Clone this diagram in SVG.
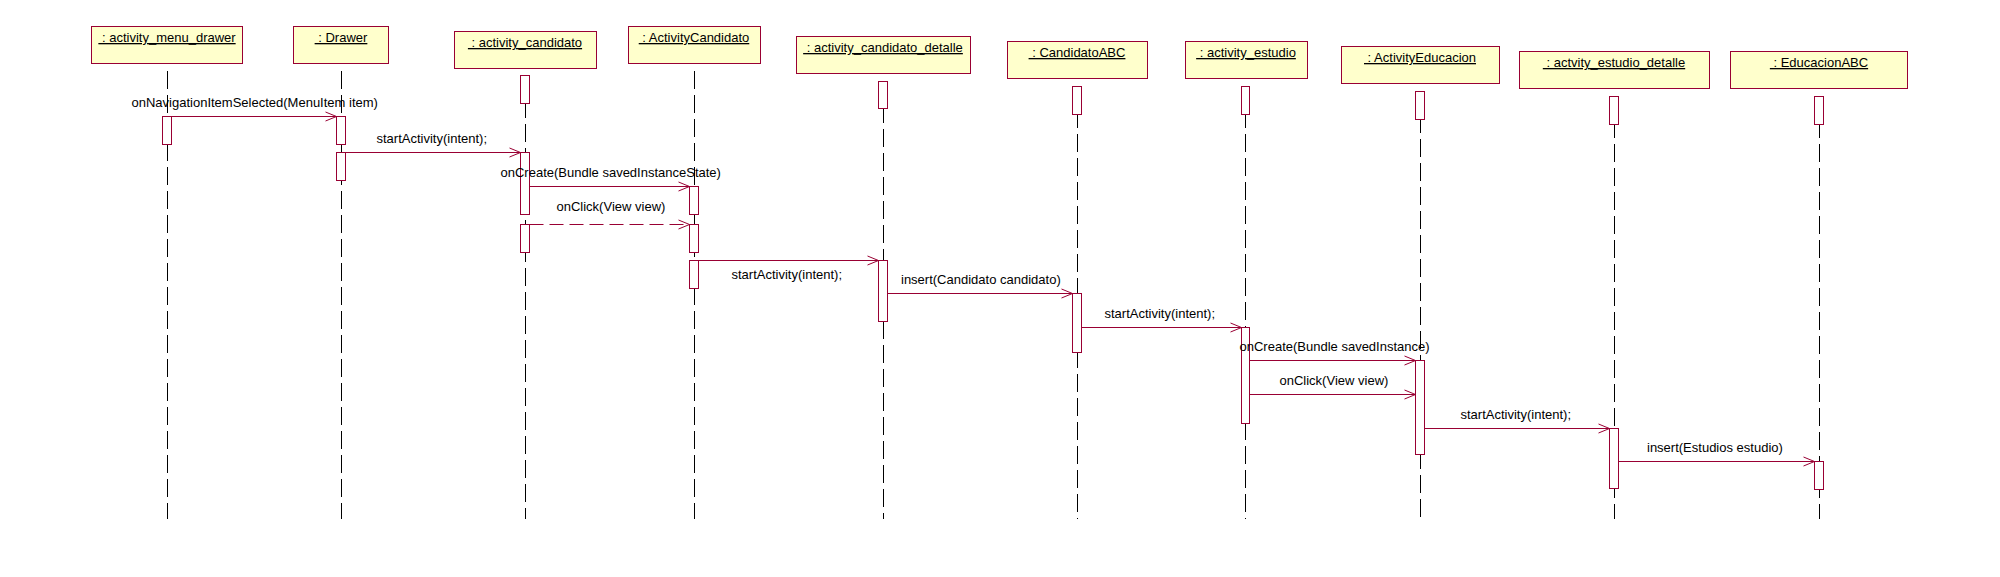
<svg xmlns="http://www.w3.org/2000/svg" width="2000" height="577" viewBox="0 0 2000 577">
<style>
.box{fill:#FFFFCC;stroke:#990033;stroke-width:1}
.act{fill:#FFFFFF;stroke:#990033;stroke-width:1}
.life{stroke:#000000;stroke-width:1;stroke-dasharray:18 6;fill:none}
.name{font-family:"Liberation Sans",Arial,sans-serif;font-size:13px;fill:#000000;text-anchor:middle;text-decoration:underline;white-space:pre}
.msg{stroke:#990033;stroke-width:1;fill:none;marker-end:url(#open)}
.dash{stroke-dasharray:14 6}
.lbl{font-family:"Liberation Sans",Arial,sans-serif;font-size:13px;fill:#000000}
</style>
<defs>
<marker id="open" markerUnits="userSpaceOnUse" viewBox="-13 -7 15 14" markerWidth="15" markerHeight="14" refX="0" refY="0" orient="auto">
<path d="M-11,-4.5 L0,0 L-11,4.5" fill="none" stroke="#990033" stroke-width="1"/>
</marker>
</defs>
<rect width="2000" height="577" fill="#FFFFFF"/>

<g id="n1">
<rect class="box" x="91.5" y="26.5" width="151" height="37"/>
<text class="name" x="167" y="42" xml:space="preserve"> : activity_menu_drawer</text>
<line class="life" x1="167.5" y1="71" x2="167.5" y2="519"/>
<rect class="act" x="162.5" y="116.5" width="9" height="28"/>
</g>

<g id="n2">
<rect class="box" x="293.5" y="26.5" width="95" height="37"/>
<text class="name" x="341" y="42" xml:space="preserve"> : Drawer</text>
<line class="life" x1="341.5" y1="71" x2="341.5" y2="519"/>
<rect class="act" x="336.5" y="116.5" width="9" height="28"/>
<rect class="act" x="336.5" y="152.5" width="9" height="28"/>
</g>

<g id="n3">
<rect class="box" x="454.5" y="31.5" width="142" height="37"/>
<text class="name" x="525" y="47" xml:space="preserve"> : activity_candidato</text>
<line class="life" x1="525.5" y1="76" x2="525.5" y2="519"/>
<rect class="act" x="520.5" y="75.5" width="9" height="28"/>
<rect class="act" x="520.5" y="152.5" width="9" height="62"/>
<rect class="act" x="520.5" y="224.5" width="9" height="28"/>
</g>

<g id="n4">
<rect class="box" x="628.5" y="26.5" width="132" height="37"/>
<text class="name" x="694" y="42" xml:space="preserve"> : ActivityCandidato</text>
<line class="life" x1="694.5" y1="71" x2="694.5" y2="519"/>
<rect class="act" x="689.5" y="186.5" width="9" height="28"/>
<rect class="act" x="689.5" y="224.5" width="9" height="28"/>
<rect class="act" x="689.5" y="260.5" width="9" height="28"/>
</g>

<g id="n5">
<rect class="box" x="796.5" y="36.5" width="174" height="37"/>
<text class="name" x="883" y="52" xml:space="preserve"> : activity_candidato_detalle</text>
<line class="life" x1="883.5" y1="81" x2="883.5" y2="519"/>
<rect class="act" x="878.5" y="81.5" width="9" height="27"/>
<rect class="act" x="878.5" y="260.5" width="9" height="61"/>
</g>

<g id="n6">
<rect class="box" x="1007.5" y="41.5" width="140" height="37"/>
<text class="name" x="1077" y="57" xml:space="preserve"> : CandidatoABC</text>
<line class="life" x1="1077.5" y1="86" x2="1077.5" y2="519"/>
<rect class="act" x="1072.5" y="86.5" width="9" height="28"/>
<rect class="act" x="1072.5" y="293.5" width="9" height="59"/>
</g>

<g id="n7">
<rect class="box" x="1185.5" y="41.5" width="122" height="37"/>
<text class="name" x="1246" y="57" xml:space="preserve"> : activity_estudio</text>
<line class="life" x1="1245.5" y1="86" x2="1245.5" y2="519"/>
<rect class="act" x="1241.5" y="86.5" width="8" height="28"/>
<rect class="act" x="1241.5" y="327.5" width="8" height="96"/>
</g>

<g id="n8">
<rect class="box" x="1341.5" y="46.5" width="158" height="37"/>
<text class="name" x="1420" y="62" xml:space="preserve"> : ActivityEducacion</text>
<line class="life" x1="1420.5" y1="91" x2="1420.5" y2="519"/>
<rect class="act" x="1415.5" y="91.5" width="9" height="28"/>
<rect class="act" x="1415.5" y="360.5" width="9" height="94"/>
</g>

<g id="n9">
<rect class="box" x="1519.5" y="51.5" width="190" height="37"/>
<text class="name" x="1614" y="67" xml:space="preserve"> : actvity_estudio_detalle</text>
<line class="life" x1="1614.5" y1="96" x2="1614.5" y2="519"/>
<rect class="act" x="1609.5" y="96.5" width="9" height="28"/>
<rect class="act" x="1609.5" y="428.5" width="9" height="60"/>
</g>

<g id="n10">
<rect class="box" x="1730.5" y="51.5" width="177" height="37"/>
<text class="name" x="1819" y="67" xml:space="preserve"> : EducacionABC</text>
<line class="life" x1="1819.5" y1="96" x2="1819.5" y2="519"/>
<rect class="act" x="1814.5" y="96.5" width="9" height="28"/>
<rect class="act" x="1814.5" y="461.5" width="9" height="28"/>
</g>

<g id="connectors">
<line class="msg" x1="171.5" y1="116.5" x2="336.5" y2="116.5"/>
<text class="lbl" x="131.5" y="107">onNavigationItemSelected(MenuItem item)</text>

<line class="msg" x1="345.5" y1="152.5" x2="520.5" y2="152.5"/>
<text class="lbl" x="376.5" y="143">startActivity(intent);</text>

<line class="msg" x1="529.5" y1="186.5" x2="689.5" y2="186.5"/>
<text class="lbl" x="500.5" y="177">onCreate(Bundle savedInstanceState)</text>

<line class="msg dash" x1="529.5" y1="224.5" x2="689.5" y2="224.5"/>
<text class="lbl" x="556.5" y="211">onClick(View view)</text>

<line class="msg" x1="698.5" y1="260.5" x2="878.5" y2="260.5"/>
<text class="lbl" x="731.5" y="279">startActivity(intent);</text>

<line class="msg" x1="887.5" y1="293.5" x2="1072.5" y2="293.5"/>
<text class="lbl" x="901" y="283.5">insert(Candidato candidato)</text>

<line class="msg" x1="1081.5" y1="327.5" x2="1241.5" y2="327.5"/>
<text class="lbl" x="1104.5" y="317.5">startActivity(intent);</text>

<line class="msg" x1="1249.5" y1="360.5" x2="1415.5" y2="360.5"/>
<text class="lbl" x="1239.5" y="351">onCreate(Bundle savedInstance)</text>

<line class="msg" x1="1249.5" y1="394.5" x2="1415.5" y2="394.5"/>
<text class="lbl" x="1279.5" y="385">onClick(View view)</text>

<line class="msg" x1="1424.5" y1="428.5" x2="1609.5" y2="428.5"/>
<text class="lbl" x="1460.5" y="419">startActivity(intent);</text>

<line class="msg" x1="1618.5" y1="461.5" x2="1814.5" y2="461.5"/>
<text class="lbl" x="1647" y="452">insert(Estudios estudio)</text>
</g>
</svg>
